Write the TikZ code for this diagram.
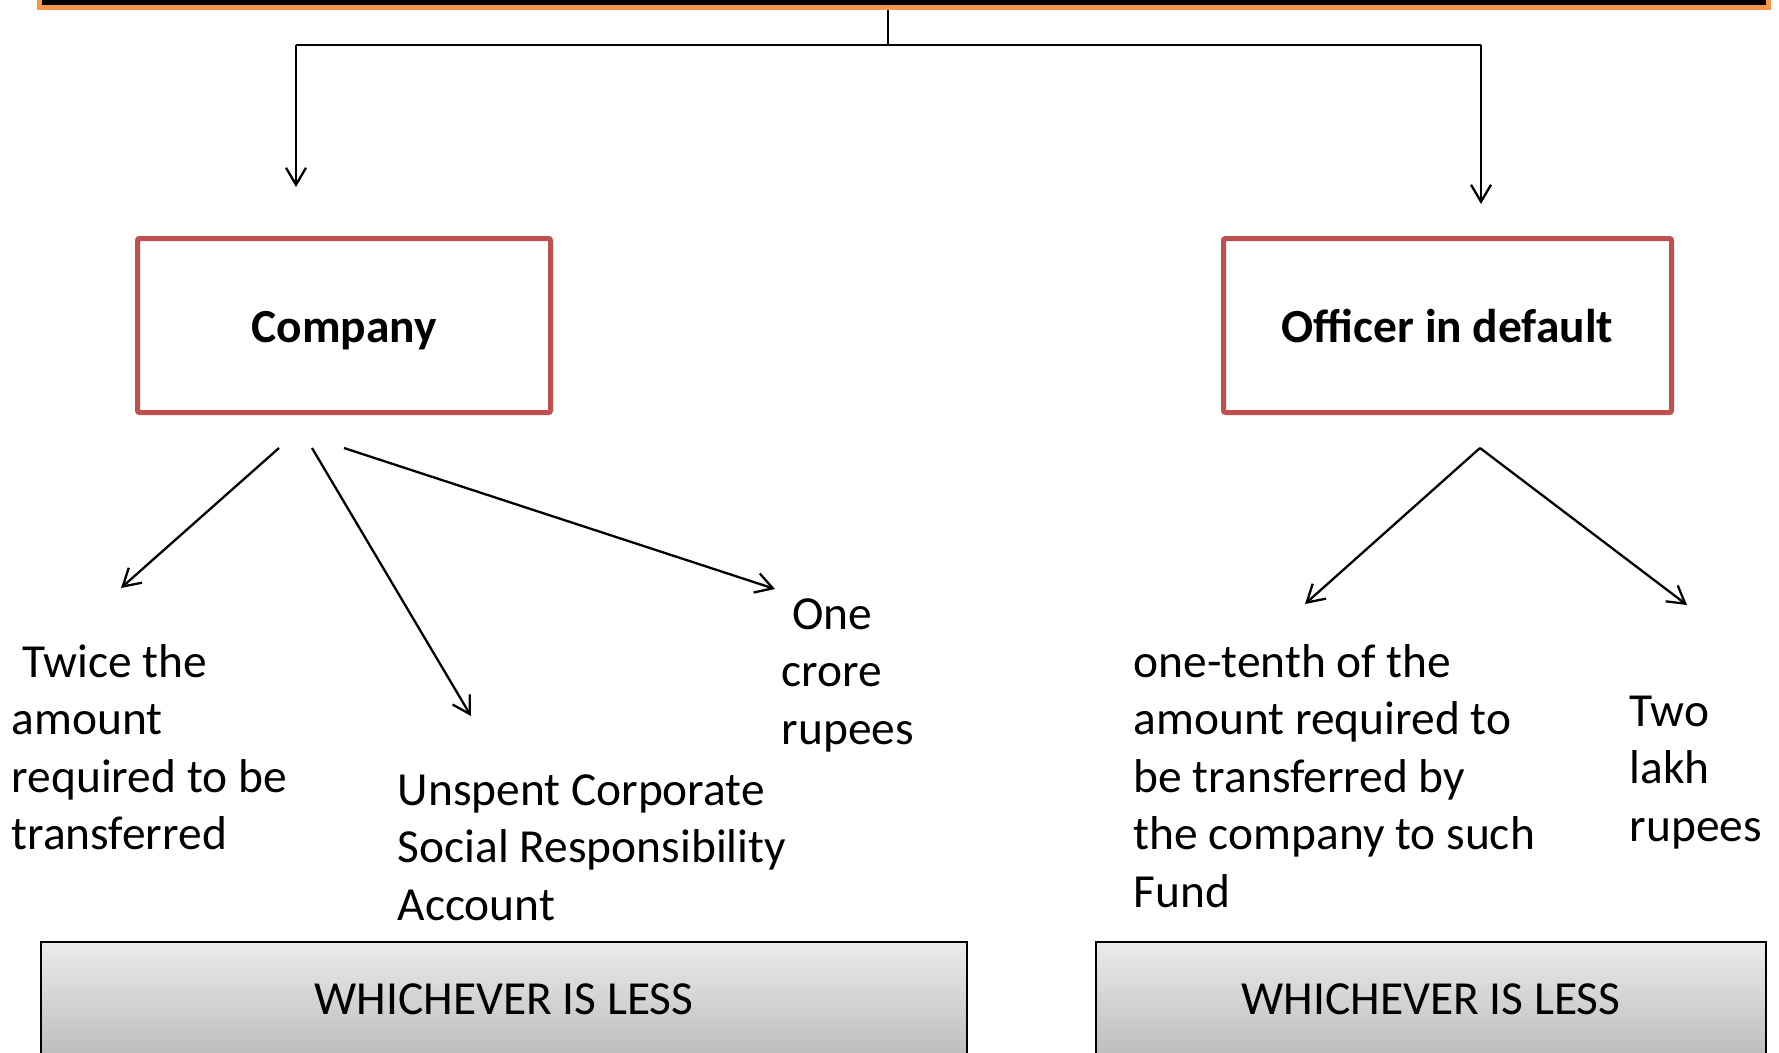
\documentclass[tikz,border=0pt]{standalone}
\usepackage{fontspec}
\setmainfont{Carlito}
\usepackage{xcolor}
\usepackage{tikz}
\usetikzlibrary{arrows.meta}

\definecolor{barorange}{HTML}{F79646}
\definecolor{boxred}{HTML}{C0504D}
\definecolor{lesstop}{HTML}{EBEBEB}
\definecolor{lessbottom}{HTML}{B3B3B3}

\begin{document}
\begin{tikzpicture}[x=0.1mm, y=-0.1mm,
  every node/.style={font=\fontsize{13.5}{16.4}\selectfont},
  party/.style={draw=boxred, line width=0.5mm, rounded corners=0.2mm, minimum width=41.3mm, minimum height=17.4mm, text height=3.42mm, text depth=0.1mm, font=\fontsize{13.5}{16.4}\selectfont\bfseries},
  penalty/.style={anchor=base west, inner sep=0pt, text width=60mm, align=flush left},
  lessbox/.style={draw=black, line width=0.2mm, top color=lesstop, bottom color=lessbottom, inner sep=0pt, text height=7.2mm, text depth=6.6mm, anchor=base},
  arr/.style={-{Straight Barb[length=1.7mm, width=2mm]}, line width=0.23mm}]
\useasboundingbox (0,0) rectangle (1779,1052);

\node[draw=barorange, fill=black, line width=0.5mm, minimum width=172.9mm, minimum height=3cm, anchor=south, inner sep=0pt] (top) at (904,10) {};

\coordinate (split) at (888,45);
\coordinate (lsplit) at (296,45);
\coordinate (rsplit) at (1481,45);
\coordinate (cotop) at (296,187);
\coordinate (oftop) at (1481,204);
\draw[line width=0.23mm] (top.south -| split) -- (split);
\draw[line width=0.23mm] (lsplit) -- (rsplit);
\draw[arr] (lsplit) -- (cotop);
\draw[arr] (rsplit) -- (oftop);

\node[party] (company) at (344,325.5) {Company};
\node[party, minimum width=44.8mm] (officer) at (1447.5,325.5) {Officer in default};

% what the company pays
\node[penalty] (twice) at (11,677) {\ Twice the\\amount\\required to be\\transferred};
\node[penalty] (ucsr) at (397,805) {Unspent Corporate\\Social Responsibility\\Account};
\node[penalty] (crore) at (781,629) {\ One\\crore\\rupees};
\coordinate (twicetip) at (121,588);
\coordinate (ucsrtip) at (471,716);
\coordinate (croretip) at (775,589);
\draw[arr] ([shift={(-65,33)}]company.south) -- (twicetip);
\draw[arr] ([shift={(-32,33)}]company.south) -- (ucsrtip);
\draw[arr] ([shift={(0,33)}]company.south) -- (croretip);

% what the officer pays
\node[penalty] (tenth) at (1133,677) {one-tenth of the\\amount required to\\be transferred by\\the company to such\\Fund};
\node[penalty] (lakh) at (1629,726) {Two\\lakh\\rupees};
\coordinate (tenthtip) at (1305,604);
\coordinate (lakhtip) at (1687,605);
\draw[arr] ([shift={(32.5,33)}]officer.south) -- (tenthtip);
\draw[arr] ([shift={(32.5,33)}]officer.south) -- (lakhtip);

\node[lessbox, minimum width=92.6mm] (lessco) at (504,1014) {WHICHEVER IS LESS};
\node[lessbox, minimum width=67mm] (lessof) at (1431,1014) {WHICHEVER IS LESS};
\end{tikzpicture}
\end{document}
